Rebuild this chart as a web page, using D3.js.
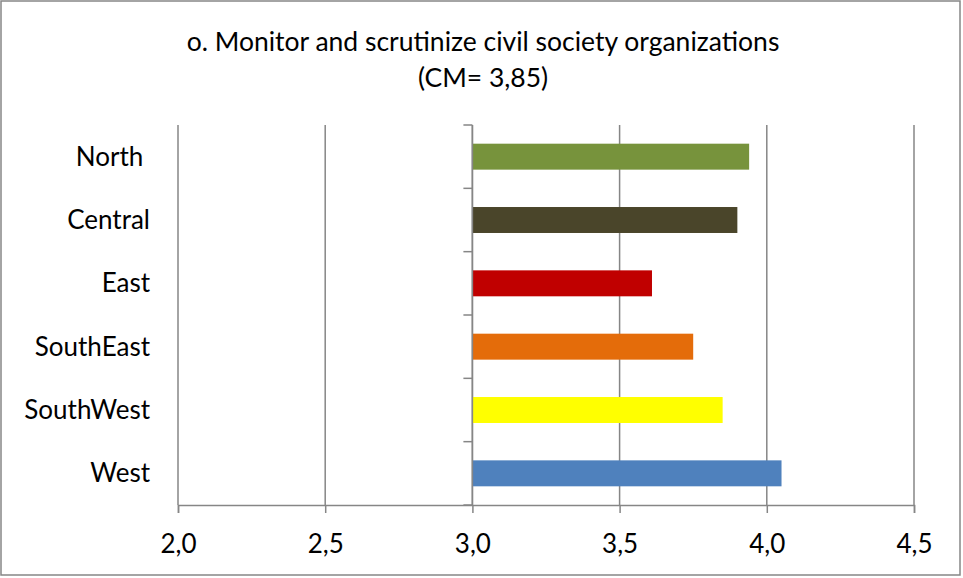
<!DOCTYPE html>
<html>
<head>
<meta charset="utf-8">
<script src="https://cdn.jsdelivr.net/npm/d3@7"></script>
<style>
  body { margin: 0; background: #fff; }
  text { font-family: Lato, "Open Sans", sans-serif; fill: #000; }
</style>
</head>
<body>
<div id="chart"></div>
<script>
// data
var regions = ["North ", "Central", "East", "SouthEast", "SouthWest", "West"];
var means = [3.94, 3.90, 3.61, 3.75, 3.85, 4.05];
var barColors = ["#77933C", "#4A452A", "#C00000", "#E46C0A", "#FFFF00", "#4F81BD"];
var xTicks = [2.0, 2.5, 3.0, 3.5, 4.0, 4.5];
var titleLines = ["o. Monitor and scrutinize civil society organizations", "(CM= 3,85)"];
var baseValue = 3.0;

var W = 963, H = 578;
var margin = {top: 125, right: 49, bottom: 73, left: 178},
    width = W - margin.left - margin.right,
    height = H - margin.top - margin.bottom;

var svg = d3.select("#chart")
  .append("svg")
    .attr("width", W)
    .attr("height", H);

// chart border
svg.append("rect")
  .attr("x", 1).attr("y", 1)
  .attr("width", W - 4).attr("height", H - 4)
  .attr("fill", "#fff")
  .attr("stroke", "#868686")
  .attr("stroke-width", 1.5);

// title
svg.selectAll(".title")
  .data(titleLines)
  .enter().append("text")
    .attr("class", "title")
    .attr("x", 483)
    .attr("y", function(d, i) { return 51 + i * 36; })
    .attr("text-anchor", "middle")
    .style("font-size", "26.5px")
    .text(function(d) { return d; });

var g = svg.append("g")
  .attr("transform", "translate(" + margin.left + "," + margin.top + ")");

var x = d3.scaleLinear().domain([2.0, 4.5]).range([0, width]);
var y = d3.scaleBand().domain(regions).range([0, height]).paddingInner(0.59).paddingOuter(0.295);

// vertical grid lines
g.selectAll(".grid")
  .data(xTicks)
  .enter().append("line")
    .attr("class", "grid")
    .attr("x1", function(d) { return x(d); })
    .attr("x2", function(d) { return x(d); })
    .attr("y1", 0)
    .attr("y2", height)
    .attr("stroke", "#868686")
    .attr("stroke-width", 1.5);

// bottom axis
var xAxis = g.append("g")
  .attr("transform", "translate(0," + height + ")")
  .call(d3.axisBottom(x).tickValues(xTicks).tickSize(8).tickPadding(22)
    .tickFormat(function(d) { return d3.format(".1f")(d).replace(".", ","); }));
xAxis.select(".domain").attr("stroke", "#868686").attr("stroke-width", 1.5);
xAxis.selectAll(".tick line").attr("stroke", "#868686").attr("stroke-width", 1.5);
xAxis.selectAll(".tick text")
  .style("font-size", "26px")
  .style("font-family", "Lato, sans-serif")
  .attr("fill", "#000");

// bars from the 3.0 base
g.selectAll(".bar")
  .data(means)
  .enter().append("rect")
    .attr("class", "bar")
    .attr("x", function(d) { return x(Math.min(d, baseValue)); })
    .attr("width", function(d) { return Math.abs(x(d) - x(baseValue)); })
    .attr("y", function(d, i) { return y(regions[i]); })
    .attr("height", y.bandwidth())
    .attr("fill", function(d, i) { return barColors[i]; });

// category axis at 3.0 with tick marks between bands
var bounds = d3.range(regions.length + 1).map(function(i) { return i * height / regions.length; });
g.append("line")
  .attr("x1", x(baseValue)).attr("x2", x(baseValue))
  .attr("y1", 0).attr("y2", height)
  .attr("stroke", "#868686").attr("stroke-width", 1.5);
g.selectAll(".ytick")
  .data(bounds)
  .enter().append("line")
    .attr("class", "ytick")
    .attr("x1", x(baseValue) - 9).attr("x2", x(baseValue))
    .attr("y1", function(d) { return d; })
    .attr("y2", function(d) { return d; })
    .attr("stroke", "#868686").attr("stroke-width", 1.5);

// category labels at the left
g.selectAll(".cat")
  .data(regions)
  .enter().append("text")
    .attr("class", "cat")
    .attr("x", -28)
    .attr("y", function(d) { return y(d) + y.bandwidth() / 2; })
    .attr("dy", "0.35em")
    .attr("text-anchor", "end")
    .style("font-size", "26px")
    .style("white-space", "pre")
    .text(function(d) { return d; });
</script>
</body>
</html>
